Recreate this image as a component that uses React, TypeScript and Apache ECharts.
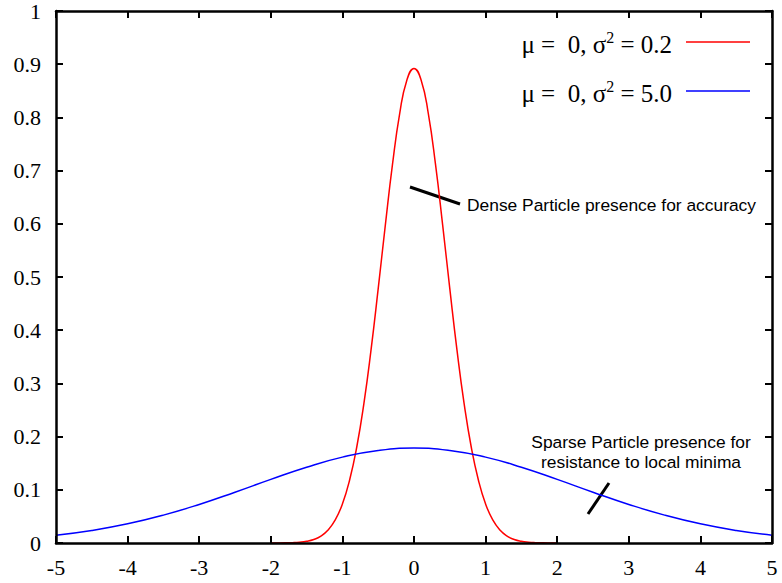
import React, { useEffect, useRef } from "react";
import * as echarts from "echarts";

const xRed = [-2.0, -1.9, -1.8, -1.7, -1.6, -1.5, -1.4, -1.3, -1.2, -1.1, -1.0, -0.9, -0.8, -0.7, -0.6, -0.5, -0.4, -0.3, -0.2, -0.1, 0.0,
  0.1, 0.2, 0.3, 0.4, 0.5, 0.6, 0.7, 0.8, 0.9, 1.0, 1.1, 1.2, 1.3, 1.4, 1.5, 1.6, 1.7, 1.8, 1.9, 2.0];
const yRed = [0.0, 0.0001, 0.0003, 0.0007, 0.0015, 0.0032, 0.0066, 0.013, 0.0244, 0.0433, 0.0732, 0.118, 0.18, 0.262, 0.363, 0.478, 0.598, 0.712, 0.807, 0.87, 0.892,
  0.87, 0.807, 0.712, 0.598, 0.478, 0.363, 0.262, 0.18, 0.118, 0.0732, 0.0433, 0.0244, 0.013, 0.0066, 0.0032, 0.0015, 0.0007, 0.0003, 0.0001, 0.0];

const xBlue = [-5, -4.5, -4, -3.5, -3, -2.5, -2, -1.5, -1, -0.5, 0, 0.5, 1, 1.5, 2, 2.5, 3, 3.5, 4, 4.5, 5];
const yBlue = [0.0146, 0.0235, 0.036, 0.0524, 0.0725, 0.0955, 0.1196, 0.1425, 0.1614, 0.174, 0.1784,
  0.174, 0.1614, 0.1425, 0.1196, 0.0955, 0.0725, 0.0524, 0.036, 0.0235, 0.0146];

const legendRed = "{n|μ =  0, σ}{s|2}{n| = 0.2}";
const legendBlue = "{n|μ =  0, σ}{s|2}{n| = 5.0}";
const noteDense = "Dense Particle presence for accuracy";
const noteSparse = "Sparse Particle presence for\nresistance to local minima";

const SERIF = '"Liberation Serif", "DejaVu Serif", serif';
const SANS = '"Liberation Sans", Arial, sans-serif';

export default function App() {
  const ref = useRef<HTMLDivElement>(null);
  useEffect(() => {
    if (!ref.current) return;
    const chart = echarts.init(ref.current, null, { renderer: "svg" });
    const axisCommon = {
      type: "value" as const,
      splitLine: { show: false },
      axisLine: { show: true, onZero: false, lineStyle: { color: "#000", width: 2.5 } },
      axisTick: { show: true, inside: true, length: 7, lineStyle: { color: "#000", width: 2 } },
      z: 5,
    };
    const richStyle = {
      n: { fontSize: 25, fontFamily: SERIF, fill: "#000", lineHeight: 29 },
      s: { fontSize: 16, fontFamily: SERIF, fill: "#000", verticalAlign: "top", lineHeight: 16 },
    };
    chart.setOption({
      animation: false,
      backgroundColor: "#fff",
      grid: { left: 56, right: 10, top: 11, bottom: 40, containLabel: false },
      xAxis: [
        {
          ...axisCommon,
          min: -5,
          max: 5,
          interval: 1,
          position: "bottom",
          axisLabel: { color: "#000", fontFamily: SERIF, fontSize: 22, margin: 13 },
        },
        {
          ...axisCommon,
          min: -5,
          max: 5,
          interval: 1,
          position: "top",
          axisLabel: { show: false },
        },
      ],
      yAxis: [
        {
          ...axisCommon,
          min: 0,
          max: 1,
          interval: 0.1,
          position: "left",
          axisLabel: { color: "#000", fontFamily: SERIF, fontSize: 22, margin: 15 },
        },
        {
          ...axisCommon,
          min: 0,
          max: 1,
          interval: 0.1,
          position: "right",
          axisLabel: { show: false },
        },
      ],
      series: [
        {
          type: "line",
          name: "red",
          data: xRed.map((x, i) => [x, yRed[i]]),
          smooth: true,
          showSymbol: false,
          lineStyle: { color: "#ff0000", width: 1.5 },
          z: 2,
        },
        {
          type: "line",
          name: "blue",
          data: xBlue.map((x, i) => [x, yBlue[i]]),
          smooth: true,
          showSymbol: false,
          lineStyle: { color: "#0000ff", width: 1.5 },
          z: 2,
        },
      ],
      graphic: [
        {
          type: "text",
          x: 672,
          y: 44,
          style: { text: legendRed, rich: richStyle, align: "right", verticalAlign: "middle", fontFamily: SERIF, fontSize: 25, fill: "#000" },
        },
        {
          type: "line",
          shape: { x1: 686, y1: 42, x2: 750, y2: 42 },
          style: { stroke: "#ff0000", lineWidth: 1.5 },
        },
        {
          type: "text",
          x: 672,
          y: 93,
          style: { text: legendBlue, rich: richStyle, align: "right", verticalAlign: "middle", fontFamily: SERIF, fontSize: 25, fill: "#000" },
        },
        {
          type: "line",
          shape: { x1: 686, y1: 91, x2: 750, y2: 91 },
          style: { stroke: "#0000ff", lineWidth: 1.5 },
        },
        {
          type: "line",
          shape: { x1: 410, y1: 187, x2: 460, y2: 204 },
          style: { stroke: "#000", lineWidth: 3 },
        },
        {
          type: "text",
          x: 467,
          y: 205,
          style: { text: noteDense, fontFamily: SANS, fontSize: 17.4, fill: "#000", align: "left", verticalAlign: "middle" },
        },
        {
          type: "line",
          shape: { x1: 588, y1: 514, x2: 609, y2: 483 },
          style: { stroke: "#000", lineWidth: 3 },
        },
        {
          type: "text",
          x: 641,
          y: 452,
          style: { text: noteSparse, fontFamily: SANS, fontSize: 17.4, lineHeight: 20, fill: "#000", align: "center", verticalAlign: "middle" },
        },
      ],
    });
    return () => chart.dispose();
  }, []);
  return <div ref={ref} style={{ position: "fixed", left: 0, top: 0, width: 782, height: 583 }} />;
}
